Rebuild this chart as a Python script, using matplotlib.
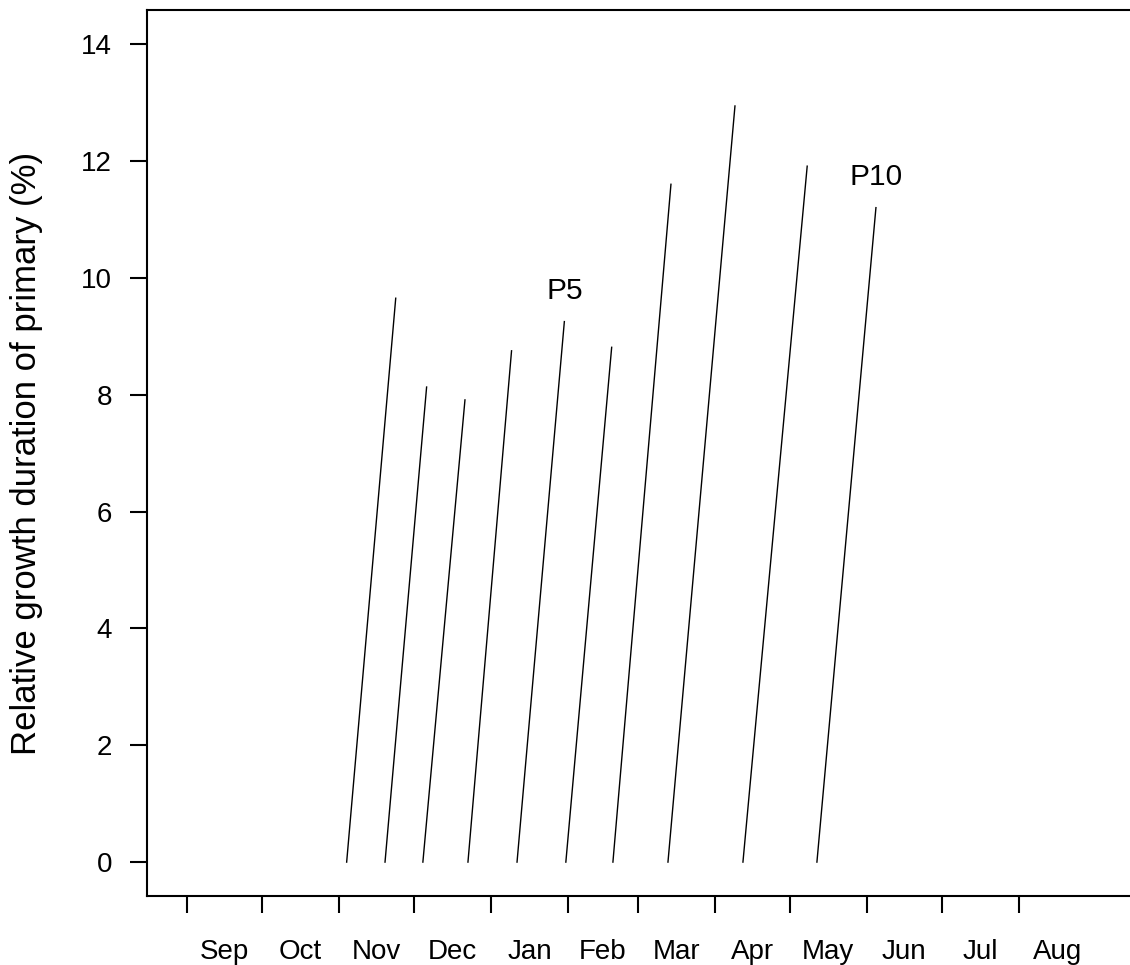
#!/usr/bin/env python3
"""
Relative growth duration of primaries, drawn as slanted segments
from the start day of growth (y=0) to the end day (y=value).
"""

import numpy as np
import matplotlib
matplotlib.use("Agg")
import matplotlib.pyplot as plt

# month names and lengths, season starts on 1 Sep (day 0)
months = ['Sep', 'Oct', 'Nov', 'Dec', 'Jan', 'Feb',
          'Mar', 'Apr', 'May', 'Jun', 'Jul', 'Aug']
month_days = [30, 31, 30, 31, 31, 28, 31, 30, 31, 30, 31, 31]

# primaries P1..P10: start day, end day (days since 1 Sep), growth %
primaries = ['P1', 'P2', 'P3', 'P4', 'P5', 'P6', 'P7', 'P8', 'P9', 'P10']
start_day = [64.1, 79.5, 94.7, 112.8, 132.5, 152.1, 171.0, 193.1, 223.2, 252.9]
end_day = [83.8, 96.2, 111.6, 130.3, 151.5, 170.5, 194.3, 220.0, 249.0, 276.6]
growth_pct = [9.65, 8.13, 7.91, 8.75, 9.25, 8.81, 11.60, 12.94, 11.91, 11.20]
labelled = ['P5', 'P10']


def main():
    plt.rcParams['font.family'] = ['Liberation Sans', 'DejaVu Sans']

    fig = plt.figure(figsize=(11.3, 9.65), dpi=100)
    ax = fig.add_axes([0.130, 0.0715, 0.870, 0.918])

    for name, x0, x1, v in zip(primaries, start_day, end_day, growth_pct):
        ax.plot([x0, x1], [0, v], color='black', linewidth=1.0)
        if name in labelled:
            ax.text(x1, v + 0.52, name, ha='center', va='center', fontsize=21.5)

    ax.set_xlim(-16.1, 378.6)
    ax.set_ylim(-0.58, 14.58)

    # month boundaries as ticks, names centred between them
    bounds = np.concatenate([[0], np.cumsum(month_days)[:-1]])
    mids = bounds + np.array(month_days) / 2.0
    ax.set_xticks(bounds)
    ax.set_xticklabels([])
    ax.set_xticks(mids, minor=True)
    ax.set_xticklabels(months, minor=True)
    ax.tick_params(axis='x', which='major', length=12.2, width=1.5, direction='out')
    ax.tick_params(axis='x', which='minor', length=0, pad=31, labelsize=20)

    ax.set_yticks(np.arange(0, 15, 2))
    ax.tick_params(axis='y', length=12.2, width=1.5, pad=13, labelsize=20)

    ax.set_ylabel('Relative growth duration of primary (%)', fontsize=25, labelpad=27)

    for side in ['left', 'bottom', 'top']:
        ax.spines[side].set_linewidth(1.5)
    ax.spines['right'].set_visible(False)

    fig.savefig('out.png', dpi=100)


if __name__ == "__main__":
    main()
